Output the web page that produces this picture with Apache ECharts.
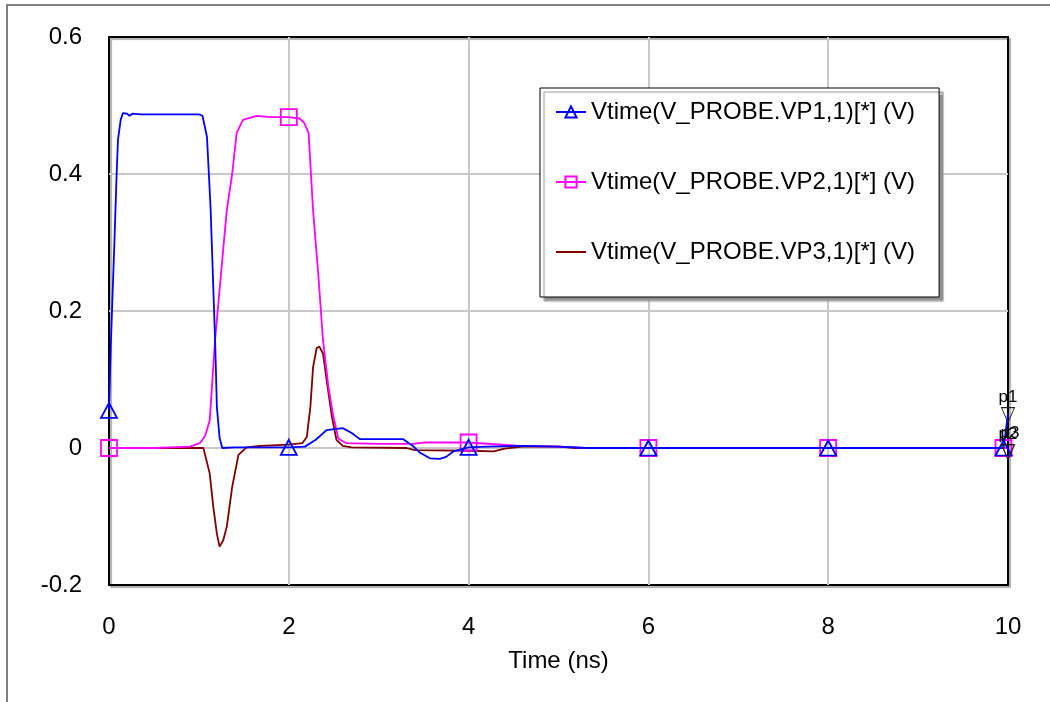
<!DOCTYPE html>
<html>
<head>
<meta charset="utf-8">
<script src="https://cdn.jsdelivr.net/npm/echarts@6/dist/echarts.min.js"></script>
<style>
  html, body { margin: 0; padding: 0; background: #fff; }
  #chart { width: 1050px; height: 702px; }
</style>
</head>
<body>
<div id="chart"></div>
<script>
// time (ns) and voltage (V)
const vp1Time = [0, 0.02, 0.06, 0.085, 0.10, 0.13, 0.155, 0.2, 0.23, 0.26, 0.35, 1.0, 1.04, 1.09, 1.13, 1.18, 1.20, 1.23, 1.26, 1.4, 2.0, 2.18, 2.3, 2.42, 2.6, 2.7, 2.79, 3.0, 3.27, 3.38, 3.46, 3.57, 3.68, 3.75, 3.83, 4.0, 4.2, 4.6, 5.0, 5.3, 6.0, 8.0, 9.95, 10.0]
const vp1Volt = [0.055, 0.15, 0.30, 0.40, 0.45, 0.479, 0.489, 0.488, 0.485, 0.488, 0.487, 0.487, 0.485, 0.454, 0.35, 0.158, 0.06, 0.015, 0.0, 0.001, 0.001, 0.002, 0.012, 0.026, 0.029, 0.022, 0.013, 0.013, 0.013, 0.003, -0.007, -0.015, -0.016, -0.013, -0.005, 0.001, 0.002, 0.003, 0.002, 0.0, 0.0, 0.0, 0.0, 0.05]

const vp2Time = [0, 0.5, 0.9, 1.01, 1.07, 1.12, 1.18, 1.25, 1.31, 1.37, 1.42, 1.49, 1.64, 1.8, 2.0, 2.12, 2.17, 2.22, 2.27, 2.33, 2.38, 2.44, 2.49, 2.55, 2.64, 3.0, 3.38, 3.5, 4.0, 4.46, 4.57, 5.0, 5.2, 5.3, 6.0, 8.0, 9.95, 10.0]
const vp2Volt = [0.0, 0.0, 0.002, 0.007, 0.018, 0.04, 0.158, 0.26, 0.347, 0.40, 0.46, 0.479, 0.485, 0.483, 0.483, 0.481, 0.475, 0.46, 0.347, 0.25, 0.158, 0.09, 0.05, 0.014, 0.007, 0.006, 0.006, 0.008, 0.008, 0.004, 0.003, 0.002, 0.001, 0.0, 0.0, 0.0, 0.0, 0.0]

const vp3Time = [0, 0.9, 1.05, 1.12, 1.16, 1.2, 1.23, 1.27, 1.31, 1.37, 1.44, 1.53, 1.68, 2.0, 2.15, 2.2, 2.24, 2.27, 2.31, 2.34, 2.38, 2.42, 2.48, 2.53, 2.6, 2.7, 3.31, 3.4, 4.0, 4.28, 4.4, 4.6, 5.0, 5.2, 6.0, 10.0]
const vp3Volt = [0, 0, 0, -0.037, -0.086, -0.125, -0.144, -0.135, -0.115, -0.057, -0.01, 0.001, 0.003, 0.005, 0.007, 0.016, 0.06, 0.118, 0.146, 0.148, 0.138, 0.10, 0.045, 0.012, 0.003, 0.001, 0.0, -0.003, -0.004, -0.005, -0.001, 0.002, 0.002, 0.0, 0, 0]

const markerTimes = [0, 2, 4, 6, 8, 9.95]

const seriesNames = [
  'Vtime(V_PROBE.VP1,1)[*] (V)',
  'Vtime(V_PROBE.VP2,1)[*] (V)',
  'Vtime(V_PROBE.VP3,1)[*] (V)'
]

const xTicks = [0, 2, 4, 6, 8, 10]
const yTicks = [-0.2, 0, 0.2, 0.4, 0.6]

const FONT = '"Liberation Sans", Arial, sans-serif'

// only the marker times get a symbol
const buildData = (ts, vs) => ts.map((t, i) => {
  const item = { value: [t, vs[i]] }
  if (!markerTimes.includes(t)) item.symbol = 'none'
  return item
})

const chart = echarts.init(document.getElementById('chart'))

chart.setOption({
  animation: false,
  backgroundColor: '#fff',
  graphic: [{
    type: 'rect',
    shape: { x: 7, y: 5, width: 1100, height: 800 },
    style: { fill: 'none', stroke: '#808080', lineWidth: 2 },
    silent: true,
    z: -10
  }],
  grid: {
    left: 109,
    right: 42,
    top: 37,
    bottom: 117,
    show: true,
    borderColor: '#000',
    borderWidth: 2,
    backgroundColor: '#fff',
    shadowColor: '#b0b0b0',
    shadowOffsetX: 2,
    shadowOffsetY: 2,
    shadowBlur: 1
  },
  legend: {
    orient: 'vertical',
    left: 540,
    top: 88,
    padding: [12, 24, 33, 15],
    itemGap: 46,
    itemWidth: 30,
    itemHeight: 14,
    backgroundColor: '#fff',
    borderColor: '#000',
    borderWidth: 1,
    shadowColor: '#909090',
    shadowOffsetX: 4,
    shadowOffsetY: 4,
    shadowBlur: 1,
    textStyle: { fontSize: 24, color: '#000', fontFamily: FONT },
    data: [
      seriesNames[0],
      seriesNames[1],
      { name: seriesNames[2], itemStyle: { color: 'transparent', borderWidth: 0 } }
    ]
  },
  xAxis: {
    type: 'value',
    min: 0,
    max: 10,
    interval: 2,
    name: 'Time (ns)',
    nameLocation: 'middle',
    nameGap: 64,
    nameTextStyle: { fontSize: 24, color: '#000', fontFamily: FONT },
    axisLine: { show: false },
    axisTick: { show: false },
    axisLabel: { fontSize: 24, color: '#000', fontFamily: FONT, margin: 30,
      customValues: xTicks },
    splitLine: { show: true, showMinLine: false, showMaxLine: false,
      lineStyle: { color: '#c8c8c8', width: 2 } }
  },
  yAxis: {
    type: 'value',
    min: -0.2,
    max: 0.6,
    interval: 0.2,
    axisLine: { show: false },
    axisTick: { show: false },
    axisLabel: { fontSize: 24, color: '#000', fontFamily: FONT, margin: 27,
      customValues: yTicks,
      formatter: v => String(Math.round(v * 10) / 10) },
    splitLine: { show: true, showMinLine: false, showMaxLine: false,
      lineStyle: { color: '#c8c8c8', width: 2 } }
  },
  series: [
    {
      name: seriesNames[0],
      type: 'line',
      data: buildData(vp1Time, vp1Volt),
      symbol: 'triangle',
      symbolSize: [16, 15],
      showAllSymbol: true,
      lineStyle: { color: '#0000ff', width: 1.8 },
      itemStyle: { color: 'transparent', borderColor: '#0000ff', borderWidth: 1.8 },
      z: 4,
      markPoint: {
        symbol: 'triangle',
        symbolRotate: 180,
        symbolSize: [13, 15],
        itemStyle: { color: 'transparent', borderColor: '#222', borderWidth: 1 },
        label: { show: true, position: 'top', distance: 1, formatter: '{b}',
          color: '#000', fontSize: 17, fontFamily: FONT },
        data: [
          { name: 'p1', coord: [10, 0.048] },
          { name: 'p2', coord: [10, -0.006] },
          { name: 'p3', coord: [10, -0.006], label: { offset: [2, -1] } }
        ]
      }
    },
    {
      name: seriesNames[1],
      type: 'line',
      data: buildData(vp2Time, vp2Volt),
      symbol: 'rect',
      symbolSize: 16,
      showAllSymbol: true,
      lineStyle: { color: '#ff00ff', width: 1.8 },
      itemStyle: { color: 'transparent', borderColor: '#ff00ff', borderWidth: 1.8 },
      z: 3
    },
    {
      name: seriesNames[2],
      type: 'line',
      data: vp3Time.map((t, i) => [t, vp3Volt[i]]),
      symbol: 'none',
      lineStyle: { color: '#800000', width: 1.8 },
      itemStyle: { color: '#800000' },
      z: 2
    }
  ]
})
</script>
</body>
</html>
